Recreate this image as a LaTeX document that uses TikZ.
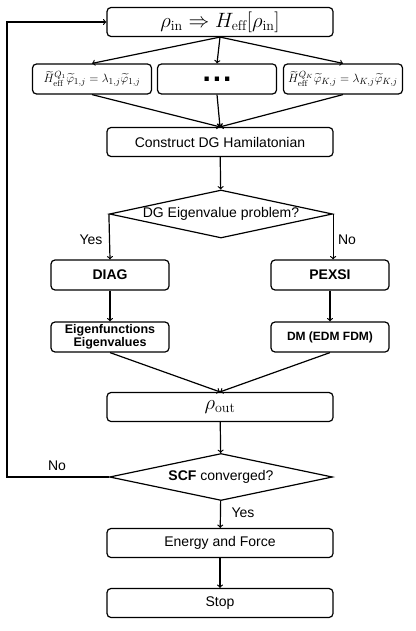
\documentclass[tikz,border=0pt]{standalone}
\usepackage{amsmath}
\usepackage{amssymb}
\usepackage{fontspec}
\newfontfamily\arial{Liberation Sans}
\usetikzlibrary{arrows,shapes.geometric}

\tikzset{
  box/.style={draw, rounded corners=4pt, line width=1.2pt, minimum width=226pt,
    minimum height=29pt, inner sep=0pt, font=\arial\fontsize{14}{16}\selectfont},
  smallbox/.style={box, minimum width=119pt, minimum height=30pt},
  decision/.style={draw, diamond, line width=1.2pt, minimum width=223pt,
    minimum height=48pt, inner sep=0pt, font=\arial\fontsize{14}{16}\selectfont},
  answer/.style={font=\arial\fontsize{14}{16}\selectfont, inner sep=0pt},
  flow/.style={->, >=to, line width=1.2pt}
}

\begin{document}
\begin{tikzpicture}[x=1pt,y=1pt]
\useasboundingbox (0,0) rectangle (415,-631);

\node[box, anchor=center, font=\fontsize{20}{24}\selectfont] (rhoin) at (220,-22)
{$\rho_{\mathrm{in}} \Rightarrow H_{\mathrm{eff}}[\rho_{\mathrm{in}}]$};

\node[smallbox, anchor=center, font=\fontsize{12.5}{15}\selectfont] (eqone) at (92,-79)
{$\widetilde{H}^{Q_1}_{\mathrm{eff}}\widetilde{\varphi}_{1,j} = \lambda_{1,j}\widetilde{\varphi}_{1,j}$};

\node[smallbox, anchor=center, font=\arial\bfseries\fontsize{30}{30}\selectfont] (dots) at (217,-79)
{.\kern2pt.\kern2pt.};

\node[smallbox, anchor=center, font=\fontsize{12.5}{15}\selectfont] (eqK) at (343,-79)
{$\widetilde{H}^{Q_K}_{\mathrm{eff}}\widetilde{\varphi}_{K,j} = \lambda_{K,j}\widetilde{\varphi}_{K,j}$};

\node[box, anchor=center] (dgham) at (220,-142)
{Construct DG Hamilatonian};

\node[decision, anchor=center] (eigprob) at (221,-214)
{\makebox[0pt]{DG Eigenvalue problem?}};

\node[smallbox, anchor=center, minimum width=118pt, font=\arial\bfseries\fontsize{14}{16}\selectfont] (diag) at (110,-275)
{DIAG};

\node[smallbox, anchor=center, minimum width=118pt, font=\arial\bfseries\fontsize{14}{16}\selectfont] (pexsi) at (330,-275)
{PEXSI};

\node[smallbox, anchor=center, minimum width=118pt, align=center, font=\arial\bfseries\fontsize{12.5}{13}\selectfont] (eigfun) at (110,-337)
{Eigenfunctions\\Eigenvalues};

\node[smallbox, anchor=center, minimum width=118pt, font=\arial\bfseries\fontsize{12}{14}\selectfont] (dm) at (330,-337)
{DM (EDM FDM)};

\node[box, anchor=center, font=\fontsize{20}{24}\selectfont] (rhoout) at (220,-407)
{$\rho_{\mathrm{out}}$};

\node[decision, anchor=center, minimum height=47pt] (scf) at (221,-477)
{\makebox[0pt]{\textbf{SCF} converged?}};

\node[box, anchor=center] (force) at (220,-543)
{Energy and Force};

\node[box, anchor=center] (stop) at (220,-603)
{Stop};

\coordinate (back) at (7,-477);

\draw[flow] (rhoin.south) -- (eqone.north);
\draw[flow] (rhoin.south) -- (dots.north);
\draw[flow] (rhoin.south) -- (eqK.north);

\draw[flow] (eqone.south) -- (dgham.north);
\draw[flow] (dots.south) -- (dgham.north);
\draw[flow] (eqK.south) -- (dgham.north);

\draw[flow] (dgham) -- (eigprob);

\draw[flow] (eigprob.west) -- (diag.north);
\draw[flow] (eigprob.east) -- (eigprob.east |- pexsi.north);

\draw[flow] (diag) -- (eigfun);
\draw[flow] (pexsi) -- (dm);

\draw[flow] (eigfun.south) -- (rhoout.north);
\draw[flow] (dm.south) -- (rhoout.north);

\draw[flow] (rhoout) -- (scf);

\draw[flow] (scf.west) -- (back) |- (rhoin.west);

\draw[flow] (scf) -- (force);
\draw[flow] (force) -- (stop);

\node[answer] (yesone) at (91,-240) {Yes};
\node[answer] (noone) at (347,-240) {No};
\node[answer] (notwo) at (57,-466) {No};
\node[answer] (yestwo) at (243,-513) {Yes};
\end{tikzpicture}
\end{document}
